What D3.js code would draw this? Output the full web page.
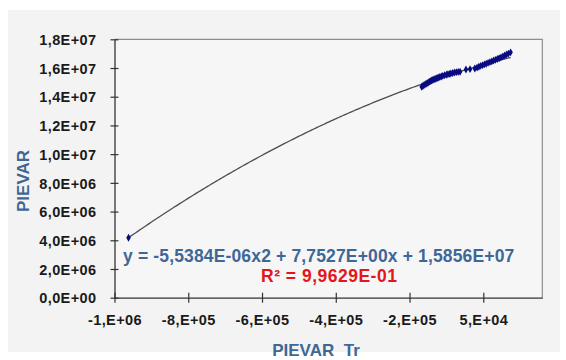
<!DOCTYPE html>
<html>
<head>
<meta charset="utf-8">
<script src="https://cdn.jsdelivr.net/npm/d3@7/dist/d3.min.js"></script>
<style>
  html, body { margin: 0; padding: 0; background: #ffffff; }
  svg { display: block; }
  text { font-family: "Liberation Sans", Arial, sans-serif; font-weight: bold; white-space: pre; }
</style>
</head>
<body>
<svg id="chart" width="566" height="360"></svg>
<script>
// PIEVAR Tr (x) against PIEVAR (y)
const pievarTr = [
  -912000,
  -117000, -114000, -111000, -108000, -105000, -102000, -99000, -96000, -93000, -90000,
  -87000, -84000, -81000, -78000, -75000, -72000, -68000, -64000, -60000, -55000,
  -50000, -46000, -42000, -38000, -33000, -28000, -23000, -18000, -13000, 3000,
  14000, 27000, 33000, 38000, 43000, 48000, 53000, 58000, 63000, 68000, 73000,
  78000, 83000, 88000, 93000, 98000, 103000, 108000, 113000, 118000, 124000
];
const pievar = [
  4180000,
  14690000, 14750000, 14800000, 14860000, 14900000, 14950000, 14990000, 15050000, 15090000, 15130000,
  15170000, 15200000, 15230000, 15270000, 15300000, 15330000, 15370000, 15410000, 15450000, 15500000,
  15530000, 15570000, 15590000, 15620000, 15650000, 15690000, 15710000, 15730000, 15740000, 15900000,
  15920000, 15970000, 16030000, 16090000, 16150000, 16200000, 16250000, 16300000, 16360000, 16410000, 16460000,
  16520000, 16570000, 16630000, 16680000, 16740000, 16810000, 16870000, 16940000, 17000000, 17090000
];

// Polynomial trendline (order 2)
const coefA = -5.5384E-06, coefB = 7.7527E+00, coefC = 1.5856E+07;
const rSquared = "9,9629E-01";
const equationText = "y = -5,5384E-06x2 + 7,7527E+00x + 1,5856E+07";

// Axis settings
const xMin = -950000, xMax = 210000, xStep = 200000;
const xTickLabels = ["-1,E+06", "-8,E+05", "-6,E+05", "-4,E+05", "-2,E+05", "5,E+04"];
const yMin = 0, yMax = 18000000, yStep = 2000000;
const yTickLabels = ["0,0E+00", "2,0E+06", "4,0E+06", "6,0E+06", "8,0E+06", "1,0E+07",
                     "1,2E+07", "1,4E+07", "1,6E+07", "1,8E+07"];

const svg = d3.select("#chart");
const plot = { left: 114.5, top: 39.3, right: 542.3, bottom: 297.7 };

// chart area background
svg.append("rect").attr("x", 8).attr("y", 10).attr("width", 552).attr("height", 342)
  .attr("fill", "#f3f3f3");
svg.append("rect").attr("x", plot.left).attr("y", plot.top)
  .attr("width", plot.right - plot.left).attr("height", plot.bottom - plot.top)
  .attr("fill", "#f6f6f6");

const x = d3.scaleLinear().domain([xMin, xMax]).range([plot.left, plot.right]);
const y = d3.scaleLinear().domain([yMin, yMax]).range([plot.bottom, plot.top]);

const xTicks = xTickLabels.map((_, i) => xMin + i * xStep);
const yTicks = yTickLabels.map((_, i) => yMin + i * yStep);

// plot frame (top and right)
svg.append("path")
  .attr("d", `M${plot.left},${plot.top}H${plot.right}V${plot.bottom}`)
  .attr("fill", "none").attr("stroke", "#8c8c8c").attr("stroke-width", 1.2);

// axes with crossing tick marks
const xAxis = d3.axisBottom(x).tickValues(xTicks)
  .tickFormat((d, i) => xTickLabels[i]).tickSizeInner(4).tickSizeOuter(0).tickPadding(10);
const gx = svg.append("g").attr("transform", `translate(0,${plot.bottom})`).call(xAxis);
gx.selectAll(".tick line").attr("y1", -5).attr("y2", 5);

const yAxis = d3.axisLeft(y).tickValues(yTicks)
  .tickFormat((d, i) => yTickLabels[i]).tickSizeInner(4).tickSizeOuter(0).tickPadding(14);
const gy = svg.append("g").attr("transform", `translate(${plot.left},0)`).call(yAxis);
gy.selectAll(".tick line").attr("x1", -4).attr("x2", 4);

[gx, gy].forEach(g => {
  g.select(".domain").attr("stroke", "#333").attr("stroke-width", 1.3);
  g.selectAll(".tick line").attr("stroke", "#333").attr("stroke-width", 1.2);
  g.selectAll(".tick text").attr("fill", "#1a1a1a")
    .style("font-size", "14.5px").style("font-weight", "bold")
    .style("letter-spacing", "0.4px")
    .style("font-family", '"Liberation Sans", Arial, sans-serif');
});
gx.selectAll(".tick text").attr("dy", "0.95em");
gy.selectAll(".tick text").attr("dy", "0.36em");

// trendline from the fitted polynomial across the data range
const xExtent = d3.extent(pievarTr);
const trendPts = d3.range(0, 201).map(i => {
  const xv = xExtent[0] + (xExtent[1] - xExtent[0]) * i / 200;
  return [xv, coefA * xv * xv + coefB * xv + coefC];
});
svg.append("path").datum(trendPts)
  .attr("d", d3.line().x(d => x(d[0])).y(d => y(d[1])))
  .attr("fill", "none").attr("stroke", "#4d4d4d").attr("stroke-width", 1.3);

// data markers
const diamond = d3.symbol().type(d3.symbolDiamond).size(18);
svg.append("g").selectAll("path").data(pievarTr.map((v, i) => [v, pievar[i]]))
  .join("path")
  .attr("d", diamond)
  .attr("transform", d => `translate(${x(d[0])},${y(d[1])})`)
  .attr("fill", "#0a0a80");

// equation and R²
svg.append("text").attr("x", 123).attr("y", 262)
  .attr("fill", "#3f6796").style("font-size", "17.5px").style("letter-spacing", "0.15px")
  .text(equationText);
svg.append("text").attr("x", 261).attr("y", 282)
  .attr("fill", "#e3161b").style("font-size", "17.5px").style("letter-spacing", "0.5px")
  .text("R² = " + rSquared);

// axis titles
svg.append("text").attr("x", 316).attr("y", 356).attr("text-anchor", "middle")
  .attr("fill", "#3f6796").style("font-size", "17px")
  .text("PIEVAR  Tr");
svg.append("text").attr("transform", "translate(29,181) rotate(-90)")
  .attr("text-anchor", "middle")
  .attr("fill", "#3f6796").style("font-size", "17px")
  .text("PIEVAR");
</script>
</body>
</html>
